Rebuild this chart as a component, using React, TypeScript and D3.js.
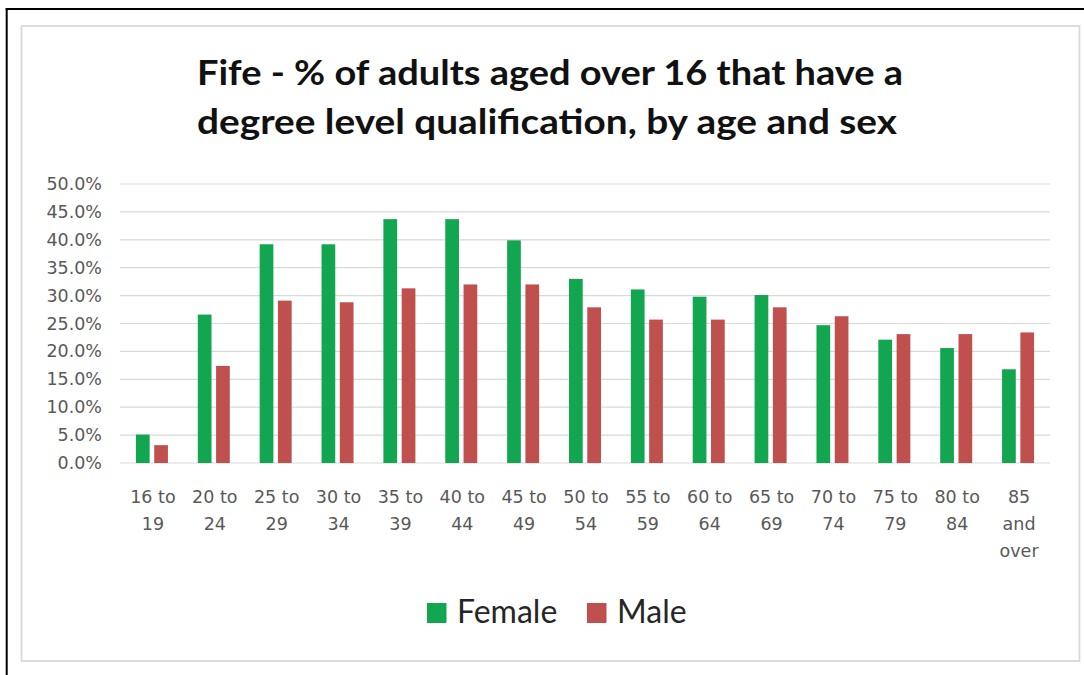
import React from "react";
import * as d3 from "d3";

// Age bands on the category axis (two or three label lines each)
const ageGroups: string[][] = [
  ["16 to", "19"], ["20 to", "24"], ["25 to", "29"], ["30 to", "34"], ["35 to", "39"],
  ["40 to", "44"], ["45 to", "49"], ["50 to", "54"], ["55 to", "59"], ["60 to", "64"],
  ["65 to", "69"], ["70 to", "74"], ["75 to", "79"], ["80 to", "84"], ["85", "and", "over"],
];

// Share of adults with a degree level qualification (fraction)
const female = [0.051, 0.266, 0.392, 0.392, 0.437, 0.437, 0.399, 0.330, 0.311, 0.298, 0.301, 0.247, 0.221, 0.206, 0.168];
const male = [0.032, 0.174, 0.291, 0.288, 0.313, 0.320, 0.320, 0.279, 0.257, 0.257, 0.279, 0.263, 0.231, 0.231, 0.234];

const yTicks = [0, 0.05, 0.1, 0.15, 0.2, 0.25, 0.3, 0.35, 0.4, 0.45, 0.5];
const seriesNames = ["Female", "Male"];
const seriesColors = ["#12A650", "#C0504D"];

const titleLines = [
  "Fife - % of adults aged over 16 that have a",
  "degree level qualification, by age and sex",
];

const W = 1084;
const H = 675;
const plotLeft = 121;
const plotRight = 1049;
const plotTop = 184;
const plotBottom = 463;

export default function App() {
  const keys = ageGroups.map((g) => g.join(" "));
  const x = d3.scaleBand<string>().domain(keys).range([plotLeft, plotRight]).padding(0);
  const inner = d3
    .scaleBand<string>()
    .domain(seriesNames)
    .range([0, 32])
    .paddingInner(0.25);
  const innerOffset = (x.bandwidth() - 32) / 2;
  const y = d3.scaleLinear().domain([0, 0.5]).range([plotBottom, plotTop]);
  const fmt = d3.format(".1%");
  const series = [female, male];

  const labelFont = "'DejaVu Sans', sans-serif";
  const textFont = "Lato, 'Open Sans', sans-serif";
  const titleWidths = [706, 700];
  const titleCenters = [550, 547];

  return (
    <div style={{ position: "absolute", left: 0, top: 0 }}>
      <svg width={W} height={H} style={{ display: "block", background: "#fff" }}>
        {/* frame */}
        <line x1={6.7} y1={8} x2={6.7} y2={H} stroke="#000" strokeWidth={2} />
        <line x1={5.7} y1={9} x2={W} y2={9} stroke="#000" strokeWidth={2} />
        <rect x={21.5} y={26} width={1058} height={635} fill="#fff" stroke="#d9d9d9" strokeWidth={1.8} />

        {/* title */}
        {titleLines.map((t, i) => (
          <text
            key={i}
            x={titleCenters[i] - titleWidths[i] / 2}
            y={85 + i * 49}
            textLength={titleWidths[i]}
            lengthAdjust="spacingAndGlyphs"
            fontFamily={textFont}
            fontWeight={700}
            fontSize={35}
            fill="#111"
          >
            {t}
          </text>
        ))}

        {/* gridlines and y labels */}
        {yTicks.map((t) => (
          <g key={t}>
            <line x1={plotLeft - 1} x2={plotRight + 1} y1={y(t)} y2={y(t)} stroke="#d9d9d9" strokeWidth={1.2} />
            <text
              x={102}
              y={y(t) + 6}
              textAnchor="end"
              fontFamily={labelFont}
              fontSize={17.5}
              fill="#595959"
            >
              {fmt(t)}
            </text>
          </g>
        ))}

        {/* bars */}
        {series.map((vals, si) =>
          vals.map((v, i) => (
            <rect
              key={`${si}-${i}`}
              x={(x(keys[i]) as number) + innerOffset + (inner(seriesNames[si]) as number)}
              y={y(v)}
              width={inner.bandwidth()}
              height={y(0) - y(v)}
              fill={seriesColors[si]}
            />
          ))
        )}

        {/* category labels */}
        {ageGroups.map((lines, i) => (
          <text
            key={i}
            textAnchor="middle"
            fontFamily={labelFont}
            fontSize={17.5}
            fill="#595959"
          >
            {lines.map((l, j) => (
              <tspan key={j} x={(x(keys[i]) as number) + x.bandwidth() / 2 + 1} y={502.5 + j * 27.3}>
                {l}
              </tspan>
            ))}
          </text>
        ))}

        {/* legend */}
        {seriesNames.map((name, i) => {
          const lx = [427, 587][i];
          return (
            <g key={name}>
              <rect x={lx} y={603} width={19.5} height={20} fill={seriesColors[i]} />
              <text x={lx + 30} y={623} fontFamily={textFont} fontSize={32} fill="#262626">
                {name}
              </text>
            </g>
          );
        })}
      </svg>
    </div>
  );
}
